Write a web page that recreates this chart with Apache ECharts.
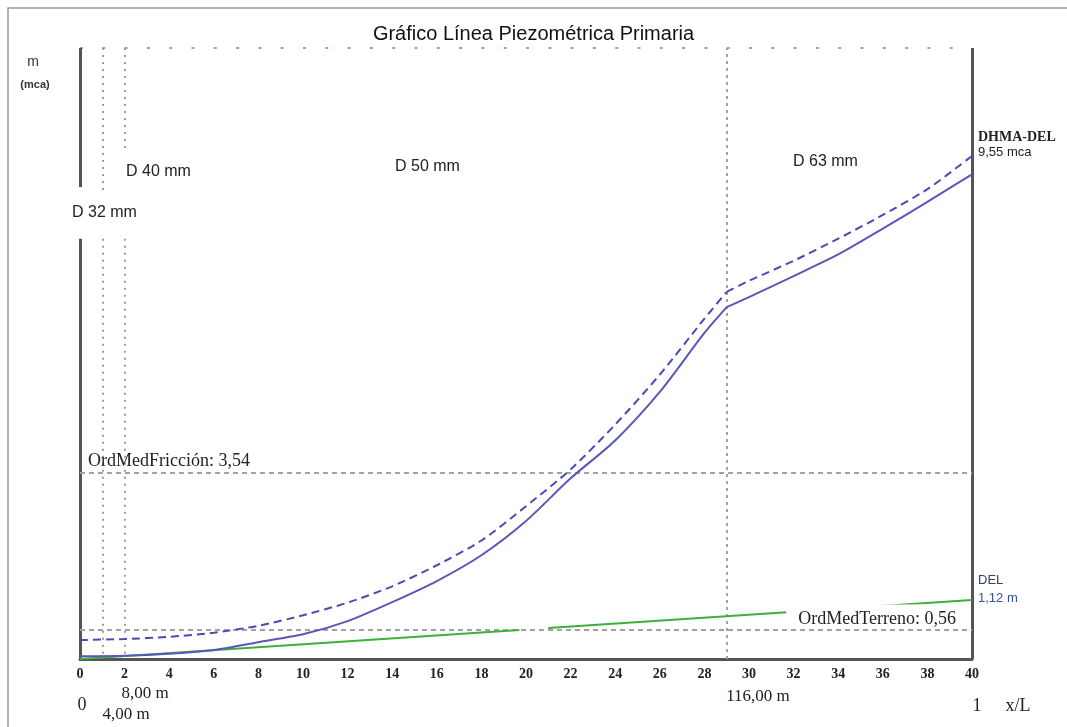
<!DOCTYPE html>
<html><head><meta charset="utf-8">
<script src="https://cdn.jsdelivr.net/npm/echarts@6/dist/echarts.min.js"></script>
<style>html,body{margin:0;padding:0;background:#fff;overflow:hidden}#c{width:1067px;height:727px}</style>
</head><body><div id="c"></div>
<script>
// ---- data (x in x/L units 0..40, y in m.c.a.) ----
const xL = [0, 2, 4, 6, 8, 10, 12, 14, 16, 18, 20, 22, 24, 26, 28, 29, 30, 32, 34, 36, 38, 40];
const lineaPiezometrica = [0.05, 0.06, 0.10, 0.17, 0.32, 0.47, 0.72, 1.08, 1.48, 1.97, 2.62, 3.43, 4.15, 5.07, 6.19, 6.68, 6.87, 7.27, 7.68, 8.17, 8.68, 9.20];
const lineaDHMA = [0.36, 0.38, 0.42, 0.50, 0.63, 0.83, 1.07, 1.38, 1.78, 2.25, 2.90, 3.60, 4.45, 5.40, 6.46, 6.97, 7.18, 7.56, 7.98, 8.43, 8.92, 9.55];
const terrenoX = [0, 19.7, 20.3, 21, 40];
const terrenoY = [0, 0.55, '-', 0.59, 1.12];
const tramosX = [1, 2, 29];
const tramosEtiquetas = ['4,00 m', '8,00 m', '116,00 m'];
const diametros = ['D 32 mm', 'D 40 mm', 'D 50 mm', 'D 63 mm'];
const ordMedFriccion = 3.54;
const ordMedTerreno = 0.56;
const dhmaDel = 9.55;
const delFinal = 1.12;
const xMax = 40;
const yMax = 11.6;

const serif = 'Liberation Serif';
const sans = 'Liberation Sans';
const pairs = (xs, ys) => xs.map((x, i) => [x, ys[i]]);
// split a profile at the D50/D63 change so the corner stays sharp
const iBreak = xL.indexOf(tramosX[2]);
const before = (ys) => pairs(xL, ys).slice(0, iBreak + 1);
const after = (ys) => pairs(xL, ys).slice(iBreak);

const chart = echarts.init(document.getElementById('c'), null, {renderer: 'canvas'});

const grey = '#a2a2a2';
const axisCol = '#555';
const vDot = {color: '#9c9c9c', width: 2, type: [2, 5]};

const markLines = [
  {yAxis: yMax, lineStyle: {color: grey, width: 2, type: [3, 19.3]}},
  [{coord: [0, yMax], lineStyle: {color: axisCol, width: 3, type: 'solid'}}, {coord: [0, 8.96]}],
  [{coord: [0, 7.98], lineStyle: {color: axisCol, width: 3, type: 'solid'}}, {coord: [0, 0]}],
  {xAxis: xMax, lineStyle: {color: axisCol, width: 3, type: 'solid'}},
  [{coord: [tramosX[0], yMax], lineStyle: vDot}, {coord: [tramosX[0], 8.9]}],
  [{coord: [tramosX[0], 7.98], lineStyle: vDot}, {coord: [tramosX[0], 0]}],
  [{coord: [tramosX[1], yMax], lineStyle: vDot}, {coord: [tramosX[1], 9.7]}],
  [{coord: [tramosX[1], 7.98], lineStyle: vDot}, {coord: [tramosX[1], 0]}],
  {xAxis: tramosX[2], lineStyle: {color: grey, width: 2, type: [3, 4]}},
  {yAxis: ordMedFriccion, lineStyle: {color: grey, width: 2, type: [5, 4]},
   label: {show: true, position: 'insideStartTop', distance: [8, 2],
     formatter: 'OrdMedFricción: ' + String(ordMedFriccion).replace('.', ','),
     fontFamily: serif, fontSize: 18, color: '#222'}},
  {yAxis: ordMedTerreno, lineStyle: {color: grey, width: 2, type: [5, 4]}}
];

const txt = (text, x, y, font, fill, align) => ({
  type: 'text', x: x, y: y, z: 50,
  style: {text: text, font: font, fill: fill || '#222', textAlign: align || 'left', textVerticalAlign: 'middle'}
});

const solidStyle = {color: '#5858ba', width: 2};
const dashStyle = {color: '#4a4ab4', width: 2, type: [8, 5]};
const curve = (name, data, style) => ({name: name, type: 'line', data: data, symbol: 'none',
  smooth: 0.25, lineStyle: style, z: 3, silent: true});

chart.setOption({
  animation: false,
  backgroundColor: '#fff',
  title: {text: 'Gráfico Línea Piezométrica Primaria', left: 'center', top: 19,
    textStyle: {fontFamily: sans, fontSize: 20, fontWeight: 'normal', color: '#111'}},
  grid: {left: 80, right: 95, top: 48, bottom: 68, containLabel: false, outerBoundsMode: 'none'},
  xAxis: {type: 'value', min: 0, max: xMax, interval: 2,
    axisLine: {show: true, onZero: false, lineStyle: {color: axisCol, width: 3}},
    axisTick: {show: false}, splitLine: {show: false},
    axisLabel: {margin: 8, fontFamily: serif, fontWeight: 'bold', fontSize: 14, color: '#222'}},
  yAxis: {type: 'value', min: 0, max: yMax,
    axisLine: {show: false}, axisTick: {show: false}, axisLabel: {show: false}, splitLine: {show: false}},
  series: [
    {name: 'Terreno', type: 'line', data: pairs(terrenoX, terrenoY), symbol: 'none',
     lineStyle: {color: '#3fae3f', width: 2}, z: 2, silent: true},
    curve('Línea piezométrica', before(lineaPiezometrica), solidStyle),
    curve('Línea piezométrica ', after(lineaPiezometrica), solidStyle),
    curve('DHMA-DEL', before(lineaDHMA), dashStyle),
    curve('DHMA-DEL ', after(lineaDHMA), dashStyle),
    {name: 'ref', type: 'line', data: [], symbol: 'none', silent: true, z: 1,
     markLine: {silent: true, symbol: ['none', 'none'], label: {show: false}, z: 1,
       lineStyle: {color: grey, width: 2}, data: markLines}},
    {name: 'refLabel', type: 'line', data: [], symbol: 'none', silent: true, z: 10,
     markLine: {silent: true, symbol: ['none', 'none'], z: 10,
       data: [{yAxis: ordMedTerreno, lineStyle: {color: 'rgba(0,0,0,0)', width: 1, type: 'solid'},
         label: {show: true, position: 'insideEndTop', distance: [10, 1],
           formatter: 'OrdMedTerreno: ' + String(ordMedTerreno).replace('.', ','),
           fontFamily: serif, fontSize: 18, color: '#222',
           backgroundColor: '#fff', padding: [6, 6, 0, 12]}}]}}
  ],
  graphic: [
    {type: 'rect', z: 0, shape: {x: 8, y: 8, width: 1100, height: 800}, style: {fill: 'none', stroke: '#9a9a9a', lineWidth: 1.5}},
    txt('m', 33, 62, '14px ' + sans, '#333', 'center'),
    txt('(mca)', 35, 85, 'bold 11px ' + sans, '#333', 'center'),
    txt(diametros[0], 72, 213, '16px ' + sans, '#222'),
    txt(diametros[1], 126, 172, '16px ' + sans, '#222'),
    txt(diametros[2], 395, 167, '16px ' + sans, '#222'),
    txt(diametros[3], 793, 162, '16px ' + sans, '#222'),
    txt('DHMA-DEL', 978, 137, 'bold 14px ' + serif, '#222'),
    txt(String(dhmaDel).replace('.', ',') + ' mca', 978, 152, '13px ' + sans, '#222'),
    txt('DEL', 978, 580, '13px ' + sans, '#34406e'),
    txt(String(delFinal).replace('.', ',') + ' m', 978, 598, '13px ' + sans, '#3450a0'),
    txt('0', 82, 705, '18px ' + serif, '#222', 'center'),
    txt(tramosEtiquetas[1], 145, 694, '17px ' + serif, '#222', 'center'),
    txt(tramosEtiquetas[0], 126, 715, '17px ' + serif, '#222', 'center'),
    txt(tramosEtiquetas[2], 758, 697, '17px ' + serif, '#222', 'center'),
    txt('1', 977, 706, '18px ' + serif, '#222', 'center'),
    txt('x/L', 1018, 706, '18px ' + serif, '#222', 'center')
  ]
});
</script></body></html>
